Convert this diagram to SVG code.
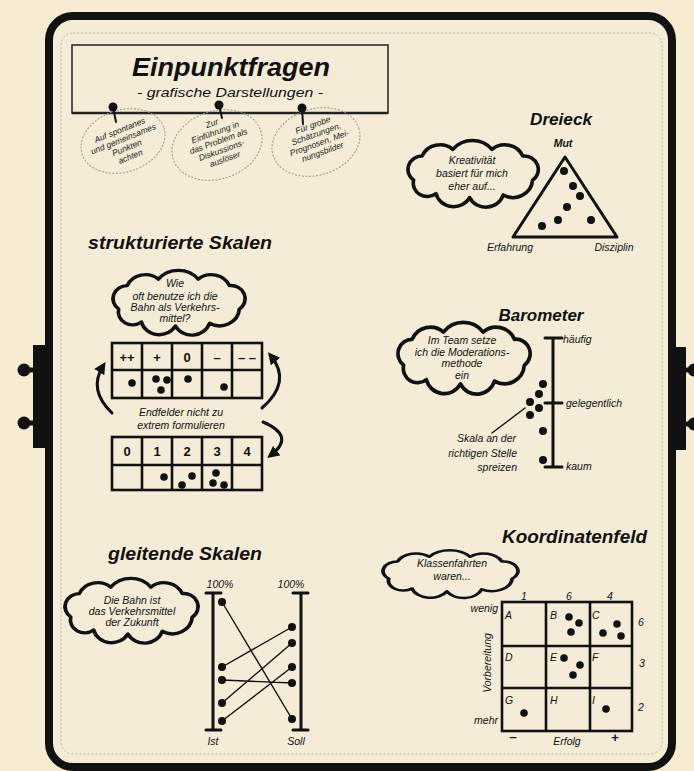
<svg xmlns="http://www.w3.org/2000/svg" xmlns:xlink="http://www.w3.org/1999/xlink" width="694" height="771" viewBox="0 0 694 771">
<defs>
<style>
.ink{fill:none;stroke:#111;stroke-linecap:round;stroke-linejoin:round}
.dot{fill:#111}
.h{font-family:"Liberation Sans",Arial,sans-serif;font-style:italic;font-weight:bold;fill:#111}
.t{font-family:"Liberation Sans",Arial,sans-serif;font-style:italic;font-size:10.5px;fill:#111;text-anchor:middle}
.s{font-family:"Liberation Sans",Arial,sans-serif;font-style:italic;font-size:8.5px;fill:#222;text-anchor:middle}
.l{font-family:"Liberation Sans",Arial,sans-serif;font-weight:bold;font-size:13px;fill:#111;text-anchor:middle}
.cl{fill:none;stroke:#111;stroke-width:2.6;stroke-linejoin:round}
.grid{fill:none;stroke:#111;stroke-width:2.6}
.thin{fill:none;stroke:#111;stroke-width:1.4;stroke-linecap:round}
.ell{fill:none;stroke:#9c968a;stroke-width:1;stroke-dasharray:2 1.5}
</style>
<path id="cloud" d="M8,30 A10,10 0 0 1 14,12 A14,14 0 0 1 36,7 A18,18 0 0 1 64,7 A14,14 0 0 1 86,12 A10,10 0 0 1 93,30 A14,14 0 0 1 72,41 A13,13 0 0 1 48,43 A13,13 0 0 1 24,40 A10,10 0 0 1 8,30 Z"/>
<marker id="ah" viewBox="0 0 10 10" refX="6" refY="5" markerWidth="4" markerHeight="4" orient="auto" markerUnits="strokeWidth">
<path d="M0,0 L10,5 L0,10 Z" fill="#111"/>
</marker>
</defs>

<rect width="694" height="771" fill="#f7ecd1"/>

<g id="frame">
<rect x="49" y="16" width="623" height="751" rx="24" fill="#f4ecd6" stroke="#111" stroke-width="8"/>
<rect x="61" y="33" width="601" height="721" rx="12" fill="none" stroke="#bdb6a6" stroke-width="1" stroke-dasharray="2 2"/>
<rect x="33" y="345" width="13" height="103" fill="#111"/>
<line x1="24" y1="370" x2="34" y2="370" stroke="#111" stroke-width="5"/>
<line x1="24" y1="423" x2="34" y2="423" stroke="#111" stroke-width="5"/>
<circle cx="24" cy="370" r="6.5" fill="#111"/>
<circle cx="24" cy="423" r="6.5" fill="#111"/>
<rect x="675" y="347" width="11" height="103" fill="#111"/>
<line x1="685" y1="370" x2="694" y2="370" stroke="#111" stroke-width="5"/>
<line x1="685" y1="424" x2="694" y2="424" stroke="#111" stroke-width="5"/>
<circle cx="694" cy="370" r="6.5" fill="#111"/>
<circle cx="694" cy="424" r="6.5" fill="#111"/>
</g>

<g id="title">
<rect x="72" y="45" width="316" height="68" fill="none" stroke="#222" stroke-width="1.5"/>
<line x1="72" y1="113" x2="388" y2="113" stroke="#222" stroke-width="2.5"/>
<text class="h" x="231" y="76" font-size="25" text-anchor="middle" textLength="198" lengthAdjust="spacingAndGlyphs">Einpunktfragen</text>
<text x="230" y="97" font-family="Liberation Sans, Arial, sans-serif" font-style="italic" font-size="12.5" fill="#111" text-anchor="middle" textLength="186" lengthAdjust="spacingAndGlyphs">- grafische Darstellungen -</text>
</g>

<g id="note1">
<ellipse cx="123" cy="141" rx="43" ry="31" transform="rotate(-18 123 141)" class="ell"/>
<g transform="rotate(-22 125 143)">
<text class="s" x="125" y="132">Auf spontanes</text>
<text class="s" x="125" y="141.5">und gemeinsames</text>
<text class="s" x="125" y="151">Punkten</text>
<text class="s" x="125" y="160.5">achten</text>
</g>
<circle cx="113" cy="107" r="4.5" fill="#111"/>
</g>

<g id="note2">
<ellipse cx="217" cy="145" rx="46" ry="34" transform="rotate(-18 217 145)" class="ell"/>
<g transform="rotate(-20 219 143)">
<text class="s" x="219" y="125">Zur</text>
<text class="s" x="219" y="134.5">Einführung in</text>
<text class="s" x="219" y="144">das Problem als</text>
<text class="s" x="219" y="153.5">Diskussions-</text>
<text class="s" x="219" y="163">auslöser</text>
</g>
<circle cx="219" cy="105" r="4.5" fill="#111"/>
</g>

<g id="note3">
<ellipse cx="316" cy="142" rx="45" ry="33" transform="rotate(-18 316 142)" class="ell"/>
<g transform="rotate(-20 318 139)">
<text class="s" x="318" y="127">Für grobe</text>
<text class="s" x="318" y="136.5">Schätzungen,</text>
<text class="s" x="318" y="146">Prognosen, Mei-</text>
<text class="s" x="318" y="155.5">nungsbilder</text>
</g>
<circle cx="302" cy="108" r="4.5" fill="#111"/>
</g>

<g id="dreieck">
<text class="h" x="561" y="125" font-size="17" text-anchor="middle" textLength="62" lengthAdjust="spacingAndGlyphs">Dreieck</text>
<use xlink:href="#cloud" class="cl" transform="translate(402.4 140) scale(1.4 1.34)" style="vector-effect:non-scaling-stroke"/>
<text class="t" x="472" y="164">Kreativität</text>
<text class="t" x="472" y="177">basiert für mich</text>
<text class="t" x="472" y="190">eher auf...</text>
<text class="t" x="563" y="147" font-weight="bold">Mut</text>
<path d="M565,157 L513,237 L617,237 Z" class="ink" stroke-width="3"/>
<g class="dot">
<circle cx="564" cy="171" r="4"/><circle cx="573" cy="186" r="4"/><circle cx="580" cy="196" r="4"/>
<circle cx="567" cy="207" r="4"/><circle cx="558" cy="220" r="4"/><circle cx="542" cy="226" r="4"/><circle cx="591" cy="220" r="4"/>
</g>
<text class="t" x="510" y="251">Erfahrung</text>
<text class="t" x="614" y="251">Disziplin</text>
</g>

<g id="strukturierte-skalen">
<text class="h" x="88" y="249" font-size="18" textLength="184" lengthAdjust="spacingAndGlyphs">strukturierte Skalen</text>
<use xlink:href="#cloud" class="cl" transform="translate(107.3 270) scale(1.42 1.3)" style="vector-effect:non-scaling-stroke"/>
<text class="t" x="175" y="287">Wie</text>
<text class="t" x="175" y="300">oft benutze ich die</text>
<text class="t" x="175" y="311">Bahn als Verkehrs-</text>
<text class="t" x="175" y="322">mittel?</text>
<rect x="112" y="343" width="150" height="55" class="grid"/>
<path d="M112,370 H262 M142,343 V398 M172,343 V398 M202,343 V398 M232,343 V398" class="grid"/>
<text class="l" x="127" y="362">++</text><text class="l" x="157" y="362">+</text><text class="l" x="187" y="362">0</text><text class="l" x="217" y="362">–</text><text class="l" x="247" y="362">– –</text>
<g class="dot">
<circle cx="132" cy="383" r="3.8"/><circle cx="156" cy="379" r="3.8"/><circle cx="167" cy="380" r="3.8"/><circle cx="161" cy="390" r="3.8"/>
<circle cx="188" cy="379" r="3.8"/><circle cx="224" cy="387" r="3.8"/>
</g>
<text class="t" x="181" y="416">Endfelder nicht zu</text>
<text class="t" x="181" y="429">extrem formulieren</text>
<rect x="112" y="437" width="150" height="53" class="grid"/>
<path d="M112,465 H262 M142,437 V490 M172,437 V490 M202,437 V490 M232,437 V490" class="grid"/>
<text class="l" x="127" y="456">0</text><text class="l" x="157" y="456">1</text><text class="l" x="187" y="456">2</text><text class="l" x="217" y="456">3</text><text class="l" x="247" y="456">4</text>
<g class="dot">
<circle cx="164" cy="477" r="3.8"/><circle cx="182" cy="485" r="3.8"/><circle cx="192" cy="476" r="3.8"/>
<circle cx="216" cy="473" r="3.8"/><circle cx="213" cy="483" r="3.8"/><circle cx="224" cy="485" r="3.8"/>
</g>
</g>

<g id="barometer">
<text class="h" x="541" y="321" font-size="17" text-anchor="middle" textLength="85" lengthAdjust="spacingAndGlyphs">Barometer</text>
<use xlink:href="#cloud" class="cl" transform="translate(392.3 322) scale(1.42 1.44)" style="vector-effect:non-scaling-stroke"/>
<text class="t" x="462" y="344" font-size="10">Im Team setze</text>
<text class="t" x="462" y="355.5" font-size="10">ich die Moderations-</text>
<text class="t" x="462" y="367" font-size="10">methode</text>
<text class="t" x="462" y="378.5" font-size="10">ein</text>
<path d="M553,338 V467 M545,338 H562 M545,403 H562 M545,467 H562" class="ink" stroke-width="3" stroke-linecap="butt"/>
<text class="t" x="563" y="343" style="text-anchor:start">häufig</text>
<text class="t" x="566" y="407" style="text-anchor:start">gelegentlich</text>
<text class="t" x="566" y="470" style="text-anchor:start">kaum</text>
<g class="dot">
<circle cx="543" cy="384" r="4"/><circle cx="539" cy="394" r="4"/><circle cx="530" cy="402" r="4"/>
<circle cx="539" cy="408" r="4"/><circle cx="530" cy="415" r="4"/><circle cx="543" cy="431" r="4"/><circle cx="543" cy="460" r="4"/>
</g>
<text class="t" x="516" y="442" style="text-anchor:end">Skala an der</text>
<text class="t" x="517" y="457" style="text-anchor:end">richtigen Stelle</text>
<text class="t" x="517" y="471" style="text-anchor:end">spreizen</text>
</g>

<g id="gleitende-skalen">
<text class="h" x="108" y="560" font-size="18" textLength="154" lengthAdjust="spacingAndGlyphs">gleitende Skalen</text>
<use xlink:href="#cloud" class="cl" transform="translate(59.3 578) scale(1.43 1.3)" style="vector-effect:non-scaling-stroke"/>
<text class="t" x="132" y="604">Die Bahn ist</text>
<text class="t" x="132" y="615">das Verkehrsmittel</text>
<text class="t" x="132" y="626">der Zukunft</text>
<text class="t" x="220" y="588">100%</text>
<text class="t" x="291" y="588">100%</text>
<path d="M213,593 V730 M206,593 H221 M206,730 H221 M301,593 V730 M293,593 H308 M293,730 H308" class="ink" stroke-width="3" stroke-linecap="butt"/>
<g class="dot">
<circle cx="222" cy="602" r="4"/><circle cx="222" cy="667" r="4"/><circle cx="222" cy="680" r="4"/><circle cx="222" cy="703" r="4"/><circle cx="222" cy="721" r="4"/>
<circle cx="292" cy="627" r="4"/><circle cx="292" cy="643" r="4"/><circle cx="292" cy="667" r="4"/><circle cx="292" cy="683" r="4"/><circle cx="292" cy="719" r="4"/>
</g>
<text class="t" x="213" y="745">Ist</text>
<text class="t" x="296" y="745">Soll</text>
</g>

<g id="koordinatenfeld">
<text class="h" x="502" y="543" font-size="18" textLength="145" lengthAdjust="spacingAndGlyphs">Koordinatenfeld</text>
<use xlink:href="#cloud" class="cl" transform="translate(377.2 550) scale(1.45 0.96)" style="vector-effect:non-scaling-stroke"/>
<text class="t" x="452" y="567">Klassenfahrten</text>
<text class="t" x="452" y="580">waren...</text>
<rect x="502" y="602" width="130" height="129" class="grid"/>
<path d="M502,646 H632 M502,688 H632 M546,602 V731 M590,602 V731" class="grid"/>
<text class="t" x="524" y="600" font-size="12">1</text><text class="t" x="569" y="600" font-size="12">6</text><text class="t" x="610" y="600" font-size="12">4</text>
<text class="t" x="641" y="626" font-size="12">6</text><text class="t" x="642" y="667" font-size="12">3</text><text class="t" x="641" y="711" font-size="12">2</text>
<g class="t" style="text-anchor:start">
<text x="505" y="619">A</text><text x="550" y="619">B</text><text x="592" y="619">C</text>
<text x="505" y="661">D</text><text x="550" y="661">E</text><text x="592" y="661">F</text>
<text x="505" y="704">G</text><text x="550" y="704">H</text><text x="592" y="704">I</text>
</g>
<g class="dot">
<circle cx="569" cy="617" r="3.8"/><circle cx="579" cy="623" r="3.8"/><circle cx="571" cy="632" r="3.8"/>
<circle cx="617" cy="624" r="3.8"/><circle cx="603" cy="633" r="3.8"/><circle cx="621" cy="636" r="3.8"/>
<circle cx="564" cy="658" r="3.8"/><circle cx="580" cy="665" r="3.8"/><circle cx="573" cy="675" r="3.8"/>
<circle cx="524" cy="713" r="3.8"/><circle cx="606" cy="709" r="3.8"/>
</g>
<text class="t" x="498" y="612" style="text-anchor:end">wenig</text>
<text class="t" x="498" y="724" style="text-anchor:end">mehr</text>
<text class="t" x="0" y="0" transform="translate(491 663) rotate(-90)">Vorbereitung</text>
<text class="l" x="513" y="741">–</text>
<text class="t" x="567" y="745">Erfolg</text>
<text class="l" x="615" y="742">+</text>
</g>

<g id="connectors">
<path d="M113,107 L116,122" class="ink" stroke-width="2"/>
<path d="M219,105 L222,118" class="ink" stroke-width="2"/>
<path d="M302,108 L303,124" class="ink" stroke-width="2"/>
<path d="M112,413 Q88,390 103,366" class="ink" stroke-width="3" marker-end="url(#ah)"/>
<path d="M262,408 Q292,382 271,356" class="ink" stroke-width="3" marker-end="url(#ah)"/>
<path d="M263,422 Q296,436 271,455" class="ink" stroke-width="3" marker-end="url(#ah)"/>
<path d="M492,433 L525,408" class="thin"/>
<path d="M222,602 L292,719 M222,667 L292,627 M222,680 L292,683 M222,703 L292,643 M222,721 L292,667" class="thin"/>
</g>
</svg>
